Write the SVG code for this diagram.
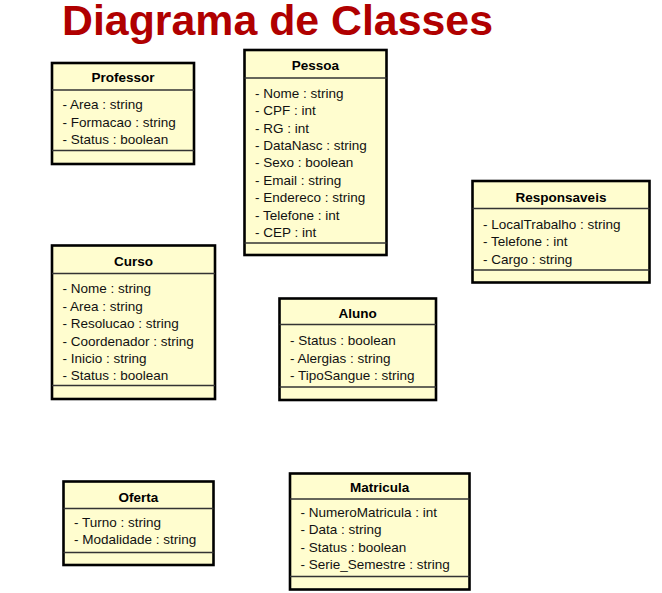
<svg xmlns="http://www.w3.org/2000/svg" width="662" height="593" viewBox="0 0 662 593">
  <style>
    .box { fill: #FFFDCF; stroke: #000; stroke-width: 2.6; }
    .div { stroke: #333; stroke-width: 1.3; }
    .name { font-family: "Liberation Sans", Arial, sans-serif; font-size: 13.5px; font-weight: bold; fill: #000; text-anchor: middle; }
    .attr { font-family: "Liberation Sans", Arial, sans-serif; font-size: 13.5px; fill: #111; }
    .title { font-family: "Liberation Sans", Arial, sans-serif; font-size: 42px; font-weight: bold; fill: #B00000; }
  </style>
  <rect width="662" height="593" fill="#fff"/>

  <text class="title" x="62" y="35" textLength="431" lengthAdjust="spacingAndGlyphs">Diagrama de Classes</text>

  <g id="connectors"></g>

  <g id="Professor">
    <rect class="box" x="52" y="63" width="142" height="101"/>
    <line class="div" x1="52" y1="90" x2="194" y2="90"/>
    <line class="div" x1="52" y1="150.5" x2="194" y2="150.5"/>
    <text class="name" x="123" y="82">Professor</text>
    <text class="attr" x="62.5" y="109">- Area : string</text>
    <text class="attr" x="62.5" y="126.5">- Formacao : string</text>
    <text class="attr" x="62.5" y="144">- Status : boolean</text>
  </g>

  <g id="Pessoa">
    <rect class="box" x="244.5" y="50" width="142" height="205"/>
    <line class="div" x1="244.5" y1="78" x2="386.5" y2="78"/>
    <line class="div" x1="244.5" y1="243" x2="386.5" y2="243"/>
    <text class="name" x="315.5" y="70">Pessoa</text>
    <text class="attr" x="255" y="97.7">- Nome : string</text>
    <text class="attr" x="255" y="115.1">- CPF : int</text>
    <text class="attr" x="255" y="132.5">- RG : int</text>
    <text class="attr" x="255" y="149.9">- DataNasc : string</text>
    <text class="attr" x="255" y="167.3">- Sexo : boolean</text>
    <text class="attr" x="255" y="184.7">- Email : string</text>
    <text class="attr" x="255" y="202.1">- Endereco : string</text>
    <text class="attr" x="255" y="219.5">- Telefone : int</text>
    <text class="attr" x="255" y="236.9">- CEP : int</text>
  </g>

  <g id="Responsaveis">
    <rect class="box" x="472.5" y="181" width="177" height="101.5"/>
    <line class="div" x1="472.5" y1="208.5" x2="649.5" y2="208.5"/>
    <line class="div" x1="472.5" y1="270" x2="649.5" y2="270"/>
    <text class="name" x="561" y="201.5">Responsaveis</text>
    <text class="attr" x="483" y="228.5">- LocalTrabalho : string</text>
    <text class="attr" x="483" y="246">- Telefone : int</text>
    <text class="attr" x="483" y="263.5">- Cargo : string</text>
  </g>

  <g id="Curso">
    <rect class="box" x="52" y="245.5" width="163" height="153.5"/>
    <line class="div" x1="52" y1="273.5" x2="215" y2="273.5"/>
    <line class="div" x1="52" y1="385.5" x2="215" y2="385.5"/>
    <text class="name" x="133.5" y="265.5">Curso</text>
    <text class="attr" x="62.5" y="293.3">- Nome : string</text>
    <text class="attr" x="62.5" y="310.7">- Area : string</text>
    <text class="attr" x="62.5" y="328.1">- Resolucao : string</text>
    <text class="attr" x="62.5" y="345.5">- Coordenador : string</text>
    <text class="attr" x="62.5" y="362.9">- Inicio : string</text>
    <text class="attr" x="62.5" y="380.3">- Status : boolean</text>
  </g>

  <g id="Aluno">
    <rect class="box" x="279.5" y="298.5" width="156.5" height="101.5"/>
    <line class="div" x1="279.5" y1="324.5" x2="436" y2="324.5"/>
    <line class="div" x1="279.5" y1="387" x2="436" y2="387"/>
    <text class="name" x="357.7" y="317.5">Aluno</text>
    <text class="attr" x="290" y="345">- Status : boolean</text>
    <text class="attr" x="290" y="362.5">- Alergias : string</text>
    <text class="attr" x="290" y="380">- TipoSangue : string</text>
  </g>

  <g id="Oferta">
    <rect class="box" x="63.5" y="481.5" width="150" height="83.5"/>
    <line class="div" x1="63.5" y1="508.5" x2="213.5" y2="508.5"/>
    <line class="div" x1="63.5" y1="552.5" x2="213.5" y2="552.5"/>
    <text class="name" x="138.5" y="501.5">Oferta</text>
    <text class="attr" x="74" y="526.7">- Turno : string</text>
    <text class="attr" x="74" y="544.2">- Modalidade : string</text>
  </g>

  <g id="Matricula">
    <rect class="box" x="290" y="473.5" width="179.5" height="116"/>
    <line class="div" x1="290" y1="499" x2="469.5" y2="499"/>
    <line class="div" x1="290" y1="576.5" x2="469.5" y2="576.5"/>
    <text class="name" x="379.7" y="492">Matricula</text>
    <text class="attr" x="300.5" y="516.7">- NumeroMatricula : int</text>
    <text class="attr" x="300.5" y="534.2">- Data : string</text>
    <text class="attr" x="300.5" y="551.7">- Status : boolean</text>
    <text class="attr" x="300.5" y="569.2">- Serie_Semestre : string</text>
  </g>
</svg>
